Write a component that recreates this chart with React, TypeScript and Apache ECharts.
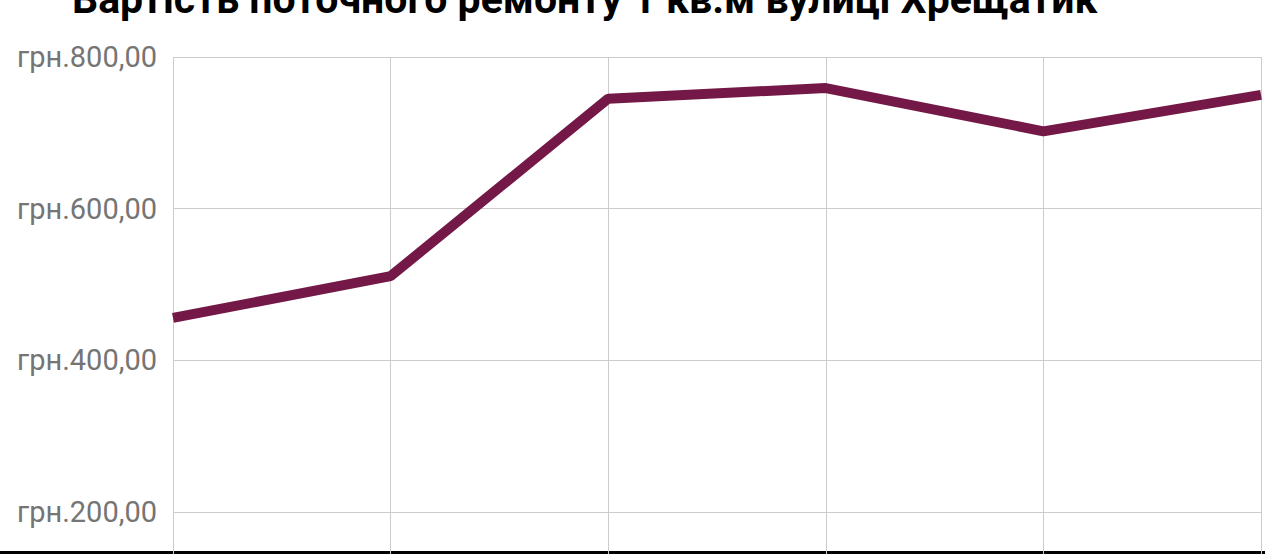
import React, { useEffect, useRef } from "react";
import * as echarts from "echarts";

const titleText = "Вартість поточного ремонту 1 кв.м вулиці Хрещатик";
const categories = ["1", "2", "3", "4", "5", "6"];
const costValues = [456, 511, 745, 759, 702, 750];
const yTicks = [0, 200, 400, 600, 800];

export default function App() {
  const ref = useRef<HTMLDivElement>(null);
  useEffect(() => {
    document.body.style.margin = "0";
    const chart = echarts.init(ref.current!, null, { renderer: "svg" });
    chart.setOption({
      animation: false,
      grid: { left: 173, right: 4, top: 57, bottom: 16.3, containLabel: false },
      xAxis: {
        type: "category",
        data: categories,
        boundaryGap: false,
        axisLine: { show: false },
        axisTick: { show: false },
        axisLabel: { show: false },
        splitLine: { show: true, lineStyle: { color: "#cccccc", width: 1 } },
      },
      yAxis: {
        type: "value",
        min: yTicks[0],
        max: yTicks[yTicks.length - 1],
        interval: 200,
        axisLine: { show: false },
        axisTick: { show: false },
        axisLabel: {
          fontFamily: "Roboto",
          fontSize: 29,
          color: "#757575",
          margin: 16,
          showMinLabel: false,
          formatter: (v: number) => "грн." + v.toFixed(2).replace(".", ","),
        },
        splitLine: { show: true, lineStyle: { color: "#cccccc", width: 1 } },
      },
      series: [
        {
          type: "line",
          data: costValues,
          showSymbol: false,
          lineStyle: { color: "#741847", width: 10 },
          itemStyle: { color: "#741847" },
        },
      ],
      graphic: [
        {
          type: "text",
          left: 72,
          top: -22,
          style: {
            text: titleText,
            font: "bold 41px Roboto",
            fill: "#000000",
          },
        },
        {
          type: "rect",
          shape: { x: 0, y: 551, width: 1265, height: 3 },
          style: { fill: "#000000" },
        },
      ],
    });
    return () => chart.dispose();
  }, []);
  return (
    <div style={{ width: 1265, height: 554, overflow: "hidden", position: "relative" }}>
      <div ref={ref} style={{ width: 1265, height: 680 }} />
    </div>
  );
}
